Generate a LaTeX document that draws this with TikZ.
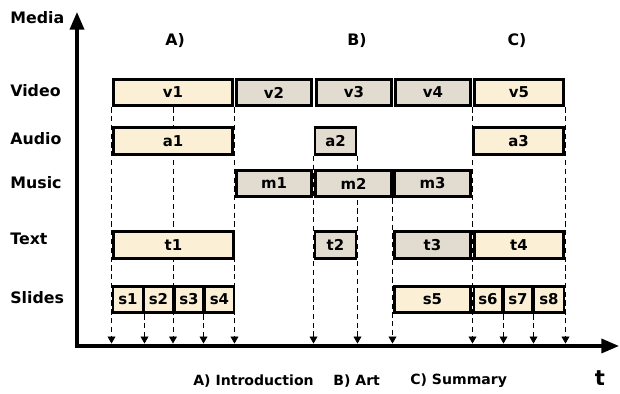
\documentclass[tikz,border=0pt]{standalone}
\usepackage{fontspec}
\setmainfont{DejaVu Sans}
\usetikzlibrary{arrows.meta,backgrounds}
\definecolor{creamA}{HTML}{FBEFD6}
\definecolor{greyB}{HTML}{E2DBD0}
\begin{document}
\begin{tikzpicture}[x=0.02cm,y=-0.02cm,
  every node/.style={font=\bfseries\fontsize{8.5}{10}\selectfont, inner sep=0pt},
  seg/.style={draw=black, line width=1.7pt, minimum height=0.53cm, anchor=center},
  segA/.style={seg, fill=creamA},
  segB/.style={seg, fill=greyB},
  rowlabel/.style={anchor=west, font=\bfseries\fontsize{9}{11}\selectfont},
  axis/.style={line width=1.8pt, -{Triangle[length=10pt,width=8pt]}},
  guide/.style={densely dashed, line width=0.5pt, -{Triangle[length=4pt,width=4.5pt]}, shorten >=1.4pt}
]
\useasboundingbox (0,0) rectangle (620,394);

% axes
\coordinate (o) at (77,348);
\coordinate (ox) at (75,346);
\coordinate (ytop) at (77,12);
\coordinate (xend) at (619,346);
\draw[axis] (o) -- (ytop);
\draw[axis] (ox) -- (xend);

% labels
\node[rowlabel] (lmedia) at (10,18) {Media};
\node[rowlabel] (lvideo) at (10,91) {Video};
\node[rowlabel] (laudio) at (10,139) {Audio};
\node[rowlabel] (lmusic) at (10,183) {Music};
\node[rowlabel] (ltext) at (10,239) {Text};
\node[rowlabel] (lslides) at (10,298) {Slides};
\node[font=\bfseries\fontsize{9}{11}\selectfont] (hA) at (175,41) {A)};
\node[font=\bfseries\fontsize{9}{11}\selectfont] (hB) at (357,41) {B)};
\node[font=\bfseries\fontsize{9}{11}\selectfont] (hC) at (517,41) {C)};
\node[anchor=west, font=\bfseries\fontsize{8}{9}\selectfont] (cA) at (193,381) {A) Introduction};
\node[anchor=west, font=\bfseries\fontsize{8}{9}\selectfont] (cB) at (333,381) {B) Art};
\node[anchor=west, font=\bfseries\fontsize{8}{9}\selectfont] (cC) at (410,381) {C) Summary};
\node[font=\bfseries\fontsize{12}{14}\selectfont] (tl) at (600,378) {t};

% Video row
\node[segA, minimum width=2.40cm] (v1) at (173,92.5) {v1};
\node[segB, minimum width=1.52cm] (v2) at (274,92.5) {v2};
\node[segB, minimum width=1.52cm] (v3) at (354,92.5) {v3};
\node[segB, minimum width=1.52cm] (v4) at (433,92.5) {v4};
\node[segA, minimum width=1.80cm] (v5) at (519,92.5) {v5};
% Audio row
\node[segA, minimum width=2.40cm] (a1) at (173,141) {a1};
\node[segB, minimum width=0.82cm] (a2) at (335.5,141) {a2};
\node[segA, minimum width=1.82cm] (a3) at (518.5,141) {a3};
% Music row
\node[segB, minimum width=1.52cm] (m1) at (274,183.5) {m1};
\node[segB, minimum width=1.54cm] (m2) at (353.5,183.5) {m2};
\node[segB, minimum width=1.54cm] (m3) at (432.5,183.5) {m3};
% Text row
\node[segA, minimum width=2.42cm] (t1) at (173.5,245) {t1};
\node[segB, minimum width=0.82cm] (t2) at (335.5,245) {t2};
\node[segB, minimum width=1.54cm] (t3) at (432.5,245) {t3};
\node[segA, minimum width=1.80cm] (t4) at (519,245) {t4};
% Slides row
\node[segA, minimum width=0.60cm] (s1) at (128,299.5) {s1};
\node[segA, minimum width=0.58cm] (s2) at (158.5,299.5) {s2};
\node[segA, minimum width=0.56cm] (s3) at (189,299.5) {s3};
\node[segA, minimum width=0.58cm] (s4) at (219.5,299.5) {s4};
\node[segA, minimum width=1.54cm] (s5) at (432.5,299.5) {s5};
\node[segA, minimum width=0.56cm] (s6) at (488,299.5) {s6};
\node[segA, minimum width=0.56cm] (s7) at (518,299.5) {s7};
\node[segA, minimum width=0.60cm] (s8) at (549,299.5) {s8};

% dashed guides behind the boxes, straight down to the time axis
\begin{scope}[on background layer]
\foreach \p in {v1.south west, s1.south east, v1.south, s4.south west, v1.south east,
                a2.south west, a2.south east, m3.south west, v5.south west,
                s6.south east, s7.south east, v5.south east}
  \draw[guide] (\p) -- (\p |- ox);
\end{scope}
\end{tikzpicture}
\end{document}
